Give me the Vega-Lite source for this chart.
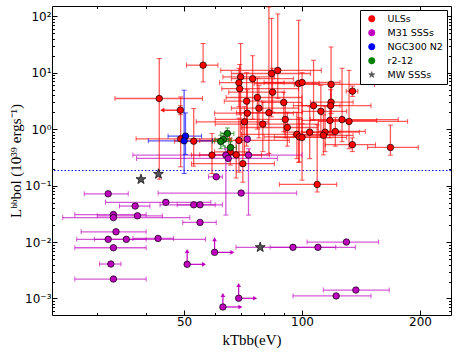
{
"$schema": "https://vega.github.io/schema/vega-lite/v6.json",
"width": 399, "height": 309,
"autosize": {"type": "none"},
"padding": {"left": 52, "top": 6, "right": 7, "bottom": 41},
"config": {
  "view": {"stroke": "black", "strokeWidth": 1},
  "font": "DejaVu Sans",
  "axis": {"labelFont": "DejaVu Sans", "labelFontSize": 12, "labelColor": "black", "tickColor": "black", "domain": false, "grid": false, "titleFont": "Liberation Serif", "titleFontSize": 15, "titleFontWeight": "normal", "titleColor": "black", "labelOverlap": false, "labelFlush": false},
  "legend": {"orient": "top-right", "offset": 4, "strokeColor": "black", "fillColor": "white", "padding": 4, "cornerRadius": 0, "labelFont": "DejaVu Sans", "labelFontSize": 9.5, "labelColor": "black", "symbolStrokeColor": "black", "symbolStrokeWidth": 0.7, "symbolSize": 40, "symbolOpacity": 1, "rowPadding": 3, "labelOffset": 11, "symbolOffset": 3}
},
"resolve": {"axis": {"x": "independent", "y": "independent"}},
"datasets": {
  "pts": [
    {"g":"ULSs","x":55.9,"y":13.6,"xl":50.7,"xh":61.0,"yl":6.87,"yh":32.9},
    {"g":"ULSs","x":43.2,"y":3.49,"xl":33.3,"xh":55.7,"yl":0.13,"yh":17.8},
    {"g":"ULSs","x":48.9,"y":2.17,"xl":48.9,"xh":48.9,"yl":1.8,"yh":2.6},
    {"g":"ULSs","x":49.0,"y":0.673,"xl":37.7,"xh":65.3,"yl":0.215,"yh":3.73},
    {"g":"ULSs","x":52.9,"y":0.613,"xl":47.3,"xh":59.8,"yl":0.221,"yh":2.32},
    {"g":"ULSs","x":58.9,"y":0.347,"xl":52.2,"xh":78.8,"yl":0.164,"yh":0.839},
    {"g":"ULSs","x":69.0,"y":0.631,"xl":54.8,"xh":92.8,"yl":0.173,"yh":1.57},
    {"g":"ULSs","x":65.6,"y":0.397,"xl":59.8,"xh":73.4,"yl":0.231,"yh":0.693},
    {"g":"ULSs","x":67.9,"y":0.351,"xl":54.8,"xh":82.5,"yl":0.136,"yh":0.639},
    {"g":"ULSs","x":70.6,"y":0.245,"xl":52.2,"xh":85.0,"yl":0.115,"yh":1.28},
    {"g":"ULSs","x":69.7,"y":8.43,"xl":62.8,"xh":85.0,"yl":0.731,"yh":32.9},
    {"g":"ULSs","x":69.0,"y":6.65,"xl":61.6,"xh":90.0,"yl":2.5,"yh":12.0},
    {"g":"ULSs","x":69.3,"y":5.21,"xl":62.4,"xh":98.0,"yl":1.8,"yh":14.0},
    {"g":"ULSs","x":74.8,"y":7.83,"xl":66.0,"xh":95.0,"yl":1.5,"yh":20.0},
    {"g":"ULSs","x":72.2,"y":3.13,"xl":63.3,"xh":90.0,"yl":0.5,"yh":10.0},
    {"g":"ULSs","x":76.9,"y":3.64,"xl":64.0,"xh":100.0,"yl":1.0,"yh":8.0},
    {"g":"ULSs","x":72.5,"y":1.92,"xl":59.8,"xh":95.0,"yl":0.6,"yh":5.0},
    {"g":"ULSs","x":77.6,"y":2.35,"xl":66.0,"xh":98.0,"yl":0.7,"yh":6.0},
    {"g":"ULSs","x":71.3,"y":1.35,"xl":53.7,"xh":82.0,"yl":0.35,"yh":2.5},
    {"g":"ULSs","x":79.4,"y":1.23,"xl":60.0,"xh":110.0,"yl":0.4,"yh":3.0},
    {"g":"ULSs","x":82.3,"y":1.96,"xl":68.0,"xh":100.0,"yl":0.37,"yh":146},
    {"g":"ULSs","x":83.6,"y":9.68,"xl":66.0,"xh":105.0,"yl":1.65,"yh":92},
    {"g":"ULSs","x":86.7,"y":10.98,"xl":62.0,"xh":112.0,"yl":3.5,"yh":110},
    {"g":"ULSs","x":84.1,"y":4.52,"xl":65.0,"xh":90.0,"yl":2.0,"yh":12.0},
    {"g":"ULSs","x":89.8,"y":2.97,"xl":79.0,"xh":100.0,"yl":0.9,"yh":4.5},
    {"g":"ULSs","x":90.6,"y":1.49,"xl":60.0,"xh":100.0,"yl":0.7,"yh":3.0},
    {"g":"ULSs","x":91.7,"y":1.07,"xl":70.0,"xh":110.0,"yl":0.5,"yh":2.0},
    {"g":"ULSs","x":98.0,"y":6.44,"xl":75.5,"xh":110.6,"yl":0.26,"yh":85},
    {"g":"ULSs","x":100.0,"y":6.71,"xl":80.0,"xh":125.0,"yl":0.64,"yh":10.0},
    {"g":"ULSs","x":118.6,"y":6.21,"xl":95.6,"xh":153.0,"yl":1.9,"yh":28.6},
    {"g":"ULSs","x":107.0,"y":2.61,"xl":95.0,"xh":125.0,"yl":1.44,"yh":16.6},
    {"g":"ULSs","x":111.7,"y":2.07,"xl":100.0,"xh":130.0,"yl":0.8,"yh":6.0},
    {"g":"ULSs","x":118.6,"y":3.01,"xl":105.0,"xh":135.0,"yl":0.8,"yh":6.0},
    {"g":"ULSs","x":118.3,"y":2.61,"xl":100.0,"xh":150.0,"yl":0.9,"yh":5.0},
    {"g":"ULSs","x":104.6,"y":0.885,"xl":90.0,"xh":125.0,"yl":0.3,"yh":2.5},
    {"g":"ULSs","x":97.0,"y":0.809,"xl":70.0,"xh":120.0,"yl":0.3,"yh":2.0},
    {"g":"ULSs","x":98.4,"y":0.731,"xl":80.0,"xh":115.0,"yl":0.26,"yh":1.6},
    {"g":"ULSs","x":100.0,"y":0.716,"xl":85.0,"xh":130.0,"yl":0.125,"yh":1.25},
    {"g":"ULSs","x":114.5,"y":0.885,"xl":100.0,"xh":140.0,"yl":0.4,"yh":2.5},
    {"g":"ULSs","x":113.4,"y":0.777,"xl":95.0,"xh":135.0,"yl":0.35,"yh":1.8},
    {"g":"ULSs","x":117.8,"y":1.43,"xl":100.0,"xh":155.0,"yl":0.7,"yh":3.0},
    {"g":"ULSs","x":121.6,"y":0.91,"xl":110.0,"xh":145.0,"yl":0.5,"yh":1.6},
    {"g":"ULSs","x":126.5,"y":1.48,"xl":105.0,"xh":176.0,"yl":0.6,"yh":12.0},
    {"g":"ULSs","x":131.8,"y":1.37,"xl":110.0,"xh":186.0,"yl":0.45,"yh":11.0},
    {"g":"ULSs","x":134.5,"y":4.71,"xl":129.6,"xh":138.8,"yl":3.8,"yh":5.8},
    {"g":"ULSs","x":134.4,"y":0.532,"xl":114.6,"xh":154.0,"yl":0.4,"yh":0.7},
    {"g":"ULSs","x":168.1,"y":0.474,"xl":147.0,"xh":198.0,"yl":0.346,"yh":1.18},
    {"g":"ULSs","x":109.3,"y":0.105,"xl":87.5,"xh":122.6,"yl":0.077,"yh":1.2},
    {"g":"M31 SSSs","x":60.4,"y":0.143,"xl":57.7,"xh":62.6,"yl":0.143,"yh":0.143},
    {"g":"M31 SSSs","x":32.0,"y":0.0716,"xl":27.8,"xh":36.0,"yl":0.0716,"yh":0.0716},
    {"g":"M31 SSSs","x":44.9,"y":0.0505,"xl":31.5,"xh":58.5,"yl":0.0505,"yh":0.0505},
    {"g":"M31 SSSs","x":37.5,"y":0.0434,"xl":34.2,"xh":40.9,"yl":0.0434,"yh":0.0434},
    {"g":"M31 SSSs","x":52.9,"y":0.0457,"xl":43.4,"xh":62.6,"yl":0.0457,"yh":0.0457},
    {"g":"M31 SSSs","x":54.9,"y":0.0457,"xl":48.0,"xh":60.0,"yl":0.0457,"yh":0.0457},
    {"g":"M31 SSSs","x":33.0,"y":0.0307,"xl":26.3,"xh":40.0,"yl":0.0285,"yh":0.0335},
    {"g":"M31 SSSs","x":33.0,"y":0.0271,"xl":24.5,"xh":51.7,"yl":0.025,"yh":0.029},
    {"g":"M31 SSSs","x":38.0,"y":0.0292,"xl":30.0,"xh":44.0,"yl":0.0292,"yh":0.0292},
    {"g":"M31 SSSs","x":54.9,"y":0.0223,"xl":49.6,"xh":60.4,"yl":0.0223,"yh":0.0223},
    {"g":"M31 SSSs","x":33.5,"y":0.0152,"xl":27.3,"xh":40.0,"yl":0.0152,"yh":0.0152},
    {"g":"M31 SSSs","x":32.0,"y":0.01116,"xl":29.5,"xh":40.0,"yl":0.01116,"yh":0.01116},
    {"g":"M31 SSSs","x":35.6,"y":0.01116,"xl":26.6,"xh":56.7,"yl":0.01116,"yh":0.01116},
    {"g":"M31 SSSs","x":42.9,"y":0.0116,"xl":37.0,"xh":47.0,"yl":0.0116,"yh":0.0116},
    {"g":"M31 SSSs","x":33.0,"y":0.00793,"xl":26.3,"xh":40.0,"yl":0.00793,"yh":0.00793},
    {"g":"M31 SSSs","x":32.5,"y":0.00408,"xl":30.4,"xh":34.5,"yl":0.00408,"yh":0.00408},
    {"g":"M31 SSSs","x":33.0,"y":0.00221,"xl":26.3,"xh":40.0,"yl":0.00221,"yh":0.00221},
    {"g":"M31 SSSs","x":94.8,"y":0.00806,"xl":67.8,"xh":121.9,"yl":0.00806,"yh":0.00806},
    {"g":"M31 SSSs","x":109.8,"y":0.00806,"xl":82.9,"xh":136.8,"yl":0.00806,"yh":0.00806},
    {"g":"M31 SSSs","x":129.8,"y":0.01,"xl":103.0,"xh":156.8,"yl":0.01,"yh":0.01},
    {"g":"M31 SSSs","x":137.2,"y":0.00141,"xl":113.3,"xh":166.9,"yl":0.00141,"yh":0.00141},
    {"g":"M31 SSSs","x":122.2,"y":0.00111,"xl":94.8,"xh":150.0,"yl":0.00111,"yh":0.00111},
    {"g":"M31 SSSs","x":72.5,"y":0.665,"xl":72.5,"xh":72.5,"yl":0.6,"yh":0.75},
    {"g":"M31 SSSs","x":63.9,"y":0.347,"xl":63.9,"xh":63.9,"yl":0.03,"yh":0.45},
    {"g":"M31 SSSs","x":64.8,"y":0.303,"xl":37.8,"xh":86.5,"yl":0.303,"yh":0.303},
    {"g":"M31 SSSs","x":73.0,"y":0.347,"xl":37.0,"xh":100.0,"yl":0.03,"yh":0.45},
    {"g":"M31 SSSs","x":69.9,"y":0.0737,"xl":42.9,"xh":96.9,"yl":0.0737,"yh":0.0737},
    {"g":"M31 SSSs","x":50.9,"y":0.00403,"xl":50.9,"xh":50.9,"yl":0.00403,"yh":0.00403},
    {"g":"M31 SSSs","x":59.8,"y":0.00657,"xl":59.8,"xh":59.8,"yl":0.00657,"yh":0.00657},
    {"g":"M31 SSSs","x":62.8,"y":0.000707,"xl":62.8,"xh":62.8,"yl":0.000707,"yh":0.000707},
    {"g":"M31 SSSs","x":68.9,"y":0.00101,"xl":68.9,"xh":68.9,"yl":0.00101,"yh":0.00101},
    {"g":"NGC300 N2","x":50.4,"y":0.752,"xl":45.5,"xh":55.4,"yl":0.357,"yh":1.94},
    {"g":"NGC300 N2","x":50.0,"y":0.621,"xl":40.5,"xh":59.1,"yl":0.164,"yh":4.9},
    {"g":"r2-12","x":64.5,"y":0.839,"xl":62.0,"xh":67.0,"yl":0.68,"yh":1.05},
    {"g":"r2-12","x":63.0,"y":0.657,"xl":60.0,"xh":66.0,"yl":0.5,"yh":0.85},
    {"g":"r2-12","x":62.0,"y":0.606,"xl":59.0,"xh":65.0,"yl":0.45,"yh":0.78},
    {"g":"r2-12","x":65.7,"y":0.474,"xl":63.5,"xh":68.0,"yl":0.38,"yh":0.6},
    {"g":"MW SSSs","x":38.8,"y":0.129},
    {"g":"MW SSSs","x":43.0,"y":0.16},
    {"g":"MW SSSs","x":78.2,"y":0.00806}
  ],
  "lims": [
    {"g":"M31 SSSs","x":50.9,"y":0.00403,"x2":50.9,"y2":0.00693,"dir":"up"},
    {"g":"M31 SSSs","x":50.9,"y":0.00403,"x2":56.2,"y2":0.00403,"dir":"right"},
    {"g":"M31 SSSs","x":59.8,"y":0.00657,"x2":59.8,"y2":0.0112,"dir":"up"},
    {"g":"M31 SSSs","x":59.8,"y":0.00657,"x2":66.4,"y2":0.00657,"dir":"right"},
    {"g":"M31 SSSs","x":62.8,"y":0.000707,"x2":62.8,"y2":0.00115,"dir":"up"},
    {"g":"M31 SSSs","x":62.8,"y":0.000707,"x2":69.6,"y2":0.000707,"dir":"right"},
    {"g":"M31 SSSs","x":68.9,"y":0.00101,"x2":68.9,"y2":0.00174,"dir":"up"},
    {"g":"M31 SSSs","x":68.9,"y":0.00101,"x2":75.9,"y2":0.00101,"dir":"right"},
    {"g":"ULSs","x":48.9,"y":2.17,"x2":44.0,"y2":2.17,"dir":"left"}
  ],
  "hl": [{"y": 0.185}]
},
"layer": [
  {
    "data": {"name": "pts"},
    "mark": {"type": "point", "opacity": 0},
    "encoding": {
      "x": {"field": "x", "type": "quantitative", "scale": {"type": "log", "domain": [23, 240], "nice": false},
        "axis": {"orient": "bottom", "values": [30,40,50,60,70,80,90,100,200], "labelExpr": "(datum.value == 50 || datum.value == 100 || datum.value == 200) ? '' + datum.value : ''", "tickSize": {"condition": {"test": "datum.value == 50 || datum.value == 100 || datum.value == 200", "value": -5}, "value": -2.5}, "labelPadding": 6, "title": "kTbb(eV)", "titlePadding": 3}},
      "y": {"field": "y", "type": "quantitative", "scale": {"type": "log", "domain": [0.00051, 152], "nice": false},
        "axis": {"orient": "left", "values": [0.0006,0.0007,0.0008,0.0009,0.001,0.002,0.003,0.004,0.005,0.006,0.007,0.008,0.009,0.01,0.02,0.03,0.04,0.05,0.06,0.07,0.08,0.09,0.1,0.2,0.3,0.4,0.5,0.6,0.7,0.8,0.9,1,2,3,4,5,6,7,8,9,10,20,30,40,50,60,70,80,90,100],
          "labelExpr": "abs(log(datum.value)/LN10 - round(log(datum.value)/LN10)) < 0.01 ? ['10⁻³','10⁻²','10⁻¹','10⁰','10¹','10²'][round(log(datum.value)/LN10)+3] : ''",
          "tickSize": {"condition": {"test": "abs(log(datum.value)/LN10 - round(log(datum.value)/LN10)) < 0.01", "value": -5}, "value": -2.5},
          "labelPadding": 6, "title": "Lᵇᵇbol (10³⁹ ergs⁻¹)", "titlePadding": 1}}
    }
  },
  {
    "data": {"name": "pts"},
    "mark": {"type": "point", "opacity": 0},
    "encoding": {
      "x": {"field": "x", "type": "quantitative", "scale": {"type": "log", "domain": [23, 240], "nice": false},
        "axis": {"orient": "top", "values": [30,40,50,60,70,80,90,100,200], "labels": false, "title": null, "tickSize": {"condition": {"test": "datum.value == 50 || datum.value == 100 || datum.value == 200", "value": -5}, "value": -2.5}}},
      "y": {"field": "y", "type": "quantitative", "scale": {"type": "log", "domain": [0.00051, 152], "nice": false},
        "axis": {"orient": "right", "values": [0.0006,0.0007,0.0008,0.0009,0.001,0.002,0.003,0.004,0.005,0.006,0.007,0.008,0.009,0.01,0.02,0.03,0.04,0.05,0.06,0.07,0.08,0.09,0.1,0.2,0.3,0.4,0.5,0.6,0.7,0.8,0.9,1,2,3,4,5,6,7,8,9,10,20,30,40,50,60,70,80,90,100], "labels": false, "title": null,
          "tickSize": {"condition": {"test": "abs(log(datum.value)/LN10 - round(log(datum.value)/LN10)) < 0.01", "value": -5}, "value": -2.5}}}
    }
  },
  {
    "data": {"name": "hl"},
    "mark": {"type": "rule", "color": "#0000ff", "strokeDash": [1.5, 2], "strokeWidth": 1},
    "encoding": {"y": {"field": "y", "type": "quantitative", "scale": {"type": "log", "domain": [0.00051, 152], "nice": false}, "axis": null}}
  },
  {
    "data": {"name": "pts"},
    "transform": [{"filter": "isValid(datum.xl)"}],
    "mark": {"type": "rule", "strokeWidth": 1.3, "opacity": 0.65},
    "encoding": {
      "x": {"field": "xl", "type": "quantitative", "scale": {"type": "log", "domain": [23, 240], "nice": false}, "axis": null},
      "x2": {"field": "xh"},
      "y": {"field": "y", "type": "quantitative", "scale": {"type": "log", "domain": [0.00051, 152], "nice": false}, "axis": null},
      "color": {"field": "g", "type": "nominal", "title": null}
    }
  },
  {
    "data": {"name": "pts"},
    "transform": [{"filter": "isValid(datum.xl)"}],
    "mark": {"type": "rule", "strokeWidth": 1.3, "opacity": 0.65},
    "encoding": {
      "x": {"field": "x", "type": "quantitative", "scale": {"type": "log", "domain": [23, 240], "nice": false}, "axis": null},
      "y": {"field": "yl", "type": "quantitative", "scale": {"type": "log", "domain": [0.00051, 152], "nice": false}, "axis": null},
      "y2": {"field": "yh"},
      "color": {"field": "g", "type": "nominal", "title": null}
    }
  },
  {
    "data": {"name": "pts"},
    "transform": [{"filter": "isValid(datum.xl) && datum.xl != datum.xh"}, {"fold": ["xl", "xh"], "as": ["k", "cx"]}],
    "mark": {"type": "tick", "orient": "vertical", "size": 5, "thickness": 1, "opacity": 0.65},
    "encoding": {
      "x": {"field": "cx", "type": "quantitative", "scale": {"type": "log", "domain": [23, 240], "nice": false}, "axis": null},
      "y": {"field": "y", "type": "quantitative", "scale": {"type": "log", "domain": [0.00051, 152], "nice": false}, "axis": null},
      "color": {"field": "g", "type": "nominal", "title": null}
    }
  },
  {
    "data": {"name": "pts"},
    "transform": [{"filter": "isValid(datum.yl) && datum.yl != datum.yh"}, {"fold": ["yl", "yh"], "as": ["k", "cy"]}],
    "mark": {"type": "tick", "orient": "horizontal", "size": 5, "thickness": 1, "opacity": 0.65},
    "encoding": {
      "x": {"field": "x", "type": "quantitative", "scale": {"type": "log", "domain": [23, 240], "nice": false}, "axis": null},
      "y": {"field": "cy", "type": "quantitative", "scale": {"type": "log", "domain": [0.00051, 152], "nice": false}, "axis": null},
      "color": {"field": "g", "type": "nominal", "title": null}
    }
  },
  {
    "data": {"name": "lims"},
    "mark": {"type": "rule", "strokeWidth": 1.2},
    "encoding": {
      "x": {"field": "x", "type": "quantitative", "scale": {"type": "log", "domain": [23, 240], "nice": false}, "axis": null},
      "x2": {"field": "x2"},
      "y": {"field": "y", "type": "quantitative", "scale": {"type": "log", "domain": [0.00051, 152], "nice": false}, "axis": null},
      "y2": {"field": "y2"},
      "color": {"field": "g", "type": "nominal", "title": null}
    }
  },
  {
    "data": {"name": "lims"},
    "transform": [{"filter": "datum.dir == 'up'"}],
    "mark": {"type": "point", "shape": "triangle-up", "filled": true, "size": 22, "opacity": 1},
    "encoding": {
      "x": {"field": "x2", "type": "quantitative", "scale": {"type": "log", "domain": [23, 240], "nice": false}, "axis": null},
      "y": {"field": "y2", "type": "quantitative", "scale": {"type": "log", "domain": [0.00051, 152], "nice": false}, "axis": null},
      "color": {"field": "g", "type": "nominal", "title": null}
    }
  },
  {
    "data": {"name": "lims"},
    "transform": [{"filter": "datum.dir == 'right'"}],
    "mark": {"type": "point", "shape": "triangle-right", "filled": true, "size": 22, "opacity": 1},
    "encoding": {
      "x": {"field": "x2", "type": "quantitative", "scale": {"type": "log", "domain": [23, 240], "nice": false}, "axis": null},
      "y": {"field": "y2", "type": "quantitative", "scale": {"type": "log", "domain": [0.00051, 152], "nice": false}, "axis": null},
      "color": {"field": "g", "type": "nominal", "title": null}
    }
  },
  {
    "data": {"name": "lims"},
    "transform": [{"filter": "datum.dir == 'left'"}],
    "mark": {"type": "point", "shape": "triangle-left", "filled": true, "size": 22, "opacity": 1},
    "encoding": {
      "x": {"field": "x2", "type": "quantitative", "scale": {"type": "log", "domain": [23, 240], "nice": false}, "axis": null},
      "y": {"field": "y2", "type": "quantitative", "scale": {"type": "log", "domain": [0.00051, 152], "nice": false}, "axis": null},
      "color": {"field": "g", "type": "nominal", "title": null}
    }
  },
  {
    "data": {"name": "pts"},
    "mark": {"type": "point", "filled": true, "opacity": 1, "stroke": "black", "strokeWidth": 0.7},
    "encoding": {
      "x": {"field": "x", "type": "quantitative", "scale": {"type": "log", "domain": [23, 240], "nice": false}, "axis": null},
      "y": {"field": "y", "type": "quantitative", "scale": {"type": "log", "domain": [0.00051, 152], "nice": false}, "axis": null},
      "color": {"field": "g", "type": "nominal", "title": null,
        "scale": {"domain": ["ULSs", "M31 SSSs", "NGC300 N2", "r2-12", "MW SSSs"], "range": ["#ff0000", "#bf00bf", "#0000ff", "#008000", "#555555"]},
        "legend": {"symbolOpacity": 1, "symbolStrokeColor": "black", "symbolStrokeWidth": 0.7}},
      "shape": {"field": "g", "type": "nominal", "title": null,
        "scale": {"domain": ["ULSs", "M31 SSSs", "NGC300 N2", "r2-12", "MW SSSs"], "range": ["circle", "circle", "circle", "circle", "M0,-1L0.235,-0.324L0.951,-0.309L0.38,0.124L0.588,0.809L0,0.4L-0.588,0.809L-0.38,0.124L-0.951,-0.309L-0.235,-0.324Z"]}},
      "size": {"condition": {"test": "datum.g == 'MW SSSs'", "value": 110}, "value": 42}
    }
  }
]
}
